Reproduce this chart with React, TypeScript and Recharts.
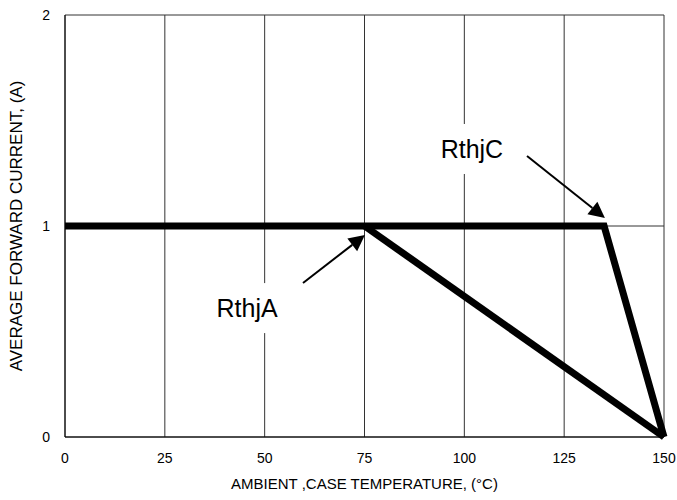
import { LineChart, Line, XAxis, YAxis, CartesianGrid, ReferenceLine, ReferenceDot } from "recharts";

// temperature (°C) vs average forward current (A)
const caseTemps = [0, 135, 150];
const caseCurrent = [1, 1, 0];
const ambientTemps = [75, 150];
const ambientCurrent = [1, 0];

const xTicks = [0, 25, 50, 75, 100, 125, 150];
const yTicks = [0, 1, 2];

// annotations: label position and arrow (start -> tip), in data units
const labelNames = ["RthjC", "RthjA"];
const labelPos = [
  { x: 101.9, y: 1.365 },
  { x: 45.6, y: 0.611 },
];
const arrowFrom = [
  { x: 115.7, y: 1.332 },
  { x: 59.6, y: 0.73 },
];
const arrowTo = [
  { x: 135.2, y: 1.038 },
  { x: 75.1, y: 0.957 },
];

const caseData = caseTemps.map((t, i) => ({ t, i: caseCurrent[i] }));
const ambientData = ambientTemps.map((t, i) => ({ t, i: ambientCurrent[i] }));

const FONT = "'Liberation Sans', Arial, sans-serif";

function Arrow(props: any) {
  const { x1, y1, x2, y2 } = props;
  const dx = x2 - x1;
  const dy = y2 - y1;
  const len = Math.sqrt(dx * dx + dy * dy);
  const ux = dx / len;
  const uy = dy / len;
  const headLen = 16;
  const headW = 8;
  const bx = x2 - ux * headLen;
  const by = y2 - uy * headLen;
  const pts = `${x2},${y2} ${bx - uy * headW},${by + ux * headW} ${bx + uy * headW},${by - ux * headW}`;
  return (
    <g>
      <line x1={x1} y1={y1} x2={bx} y2={by} stroke="#000" strokeWidth={2} />
      <polygon points={pts} fill="#000" />
    </g>
  );
}

function makeLabel(text: string) {
  return (props: any) => {
    const { cx, cy } = props;
    return (
      <g>
        <rect x={cx - 36} y={cy - 25} width={72} height={50} fill="#fff" />
        <text x={cx} y={cy} dy="0.355em" textAnchor="middle" fontSize={25} fontFamily={FONT} fill="#000">
          {text}
        </text>
      </g>
    );
  };
}

export default function App() {
  return (
    <div style={{ position: "absolute", left: 0, top: 0, background: "#fff" }}>
      <LineChart width={677} height={500} margin={{ top: 15, right: 13, bottom: 0, left: 0 }}>
        <CartesianGrid stroke="#333" strokeWidth={1} />
        <XAxis
          type="number"
          dataKey="t"
          domain={[0, 150]}
          ticks={xTicks}
          height={63}
          tickLine={false}
          tickSize={0}
          tickMargin={16}
          axisLine={{ stroke: "#000" }}
          tick={{ fontSize: 14, fontFamily: FONT, fill: "#000" }}
          label={{
            value: "AMBIENT ,CASE TEMPERATURE, (°C)",
            position: "insideBottom",
            offset: 11,
            style: { fontSize: 15, fontFamily: FONT, fill: "#000" },
          }}
        />
        <YAxis
          type="number"
          domain={[0, 2]}
          ticks={yTicks}
          width={65}
          tickLine={false}
          tickSize={0}
          tickMargin={15}
          axisLine={{ stroke: "#000" }}
          tick={{ fontSize: 14, fontFamily: FONT, fill: "#000" }}
          label={{
            value: "AVERAGE FORWARD CURRENT, (A)",
            angle: -90,
            position: "insideLeft",
            offset: 16,
            style: { fontSize: 17, fontFamily: FONT, fill: "#000", textAnchor: "middle" },
          }}
        />
        {labelNames.map((name, k) => (
          <ReferenceDot
            key={name}
            x={labelPos[k].x}
            y={labelPos[k].y}
            r={0}
            shape={makeLabel(name)}
          />
        ))}
        {labelNames.map((name, k) => (
          <ReferenceLine
            key={`arrow-${name}`}
            segment={[arrowFrom[k], arrowTo[k]]}
            shape={(p: any) => <Arrow {...p} />}
          />
        ))}
        <Line
          data={caseData}
          dataKey="i"
          stroke="#000"
          strokeWidth={7}
          strokeLinejoin="miter"
          dot={false}
          activeDot={false}
          isAnimationActive={false}
        />
        <Line
          data={ambientData}
          dataKey="i"
          stroke="#000"
          strokeWidth={7}
          strokeLinejoin="miter"
          dot={false}
          activeDot={false}
          isAnimationActive={false}
        />
      </LineChart>
    </div>
  );
}
